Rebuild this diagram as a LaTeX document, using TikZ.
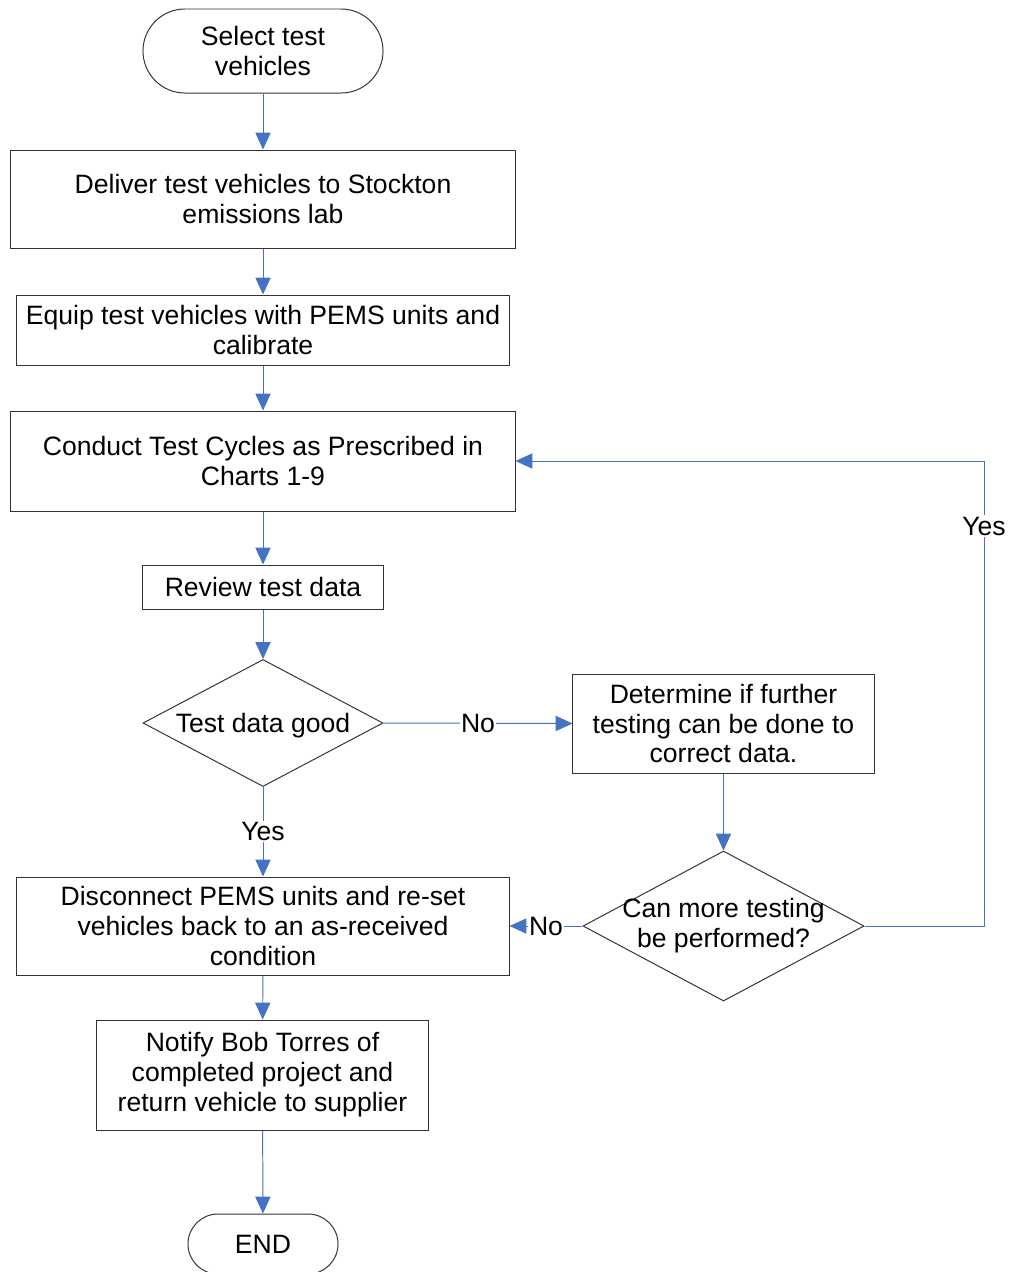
\documentclass[tikz,border=0pt]{standalone}
\usepackage{fontspec}
\setmainfont{Liberation Sans}
\usetikzlibrary{arrows.meta,shapes.geometric}
\definecolor{flowblue}{RGB}{68,114,196}

\begin{document}
\begin{tikzpicture}[x=0.025cm, y=-0.025cm,
  every node/.style={font=\fontsize{18.9}{21.3}\selectfont, align=center},
  box/.style={draw=black!80, line width=0.7pt, inner sep=0pt},
  term/.style={box, rounded corners=1.05cm},
  decide/.style={box, diamond, inner sep=0pt},
  flow/.style={draw=flowblue, line width=0.7pt, -{Triangle[length=0.42cm,width=0.38cm]}},
  lbl/.style={fill=white, inner sep=1pt}]
\useasboundingbox (0,0) rectangle (1024,1272);

% Main column
\node[term, minimum width=6cm, minimum height=2.1cm] (start) at (263,51) {Select test\\vehicles};
\node[box, minimum width=12.6cm, minimum height=2.45cm] (deliver) at (263,199) {Deliver test vehicles to Stockton\\emissions lab};
\node[box, minimum width=12.3cm, minimum height=1.75cm] (equip) at (263,330) {Equip test vehicles with PEMS units and\\calibrate};
\node[box, minimum width=12.6cm, minimum height=2.5cm] (conduct) at (263,461) {Conduct Test Cycles as Prescribed in\\Charts 1-9};
\node[box, minimum width=6cm, minimum height=1.1cm] (review) at (263,587) {Review test data};
\node[decide, minimum width=6cm, minimum height=3.175cm, label={[yshift=-2pt]center:Test data good}] (good) at (263,723) {};
\node[box, minimum width=12.3cm, minimum height=2.45cm] (disconnect) at (263,926) {Disconnect PEMS units and re-set\\vehicles back to an as-received\\condition};
\node[box, minimum width=8.275cm, minimum height=2.75cm] (notify) at (262.5,1075) {Notify Bob Torres of\\completed project and\\return vehicle to supplier};
\node[term, rounded corners=0.75cm, minimum width=3.75cm, minimum height=1.5cm] (end) at (263,1244) {END};

% Side branch
\node[box, minimum width=7.525cm, minimum height=2.475cm] (further) at (723.5,723.5) {Determine if further\\testing can be done to\\correct data.};
\node[decide, minimum width=7.025cm, minimum height=3.75cm, label=center:{Can more testing\\be performed?}] (more) at (723.5,926) {};
\coordinate (loop) at (984,926);

% Connectors
\draw[flow] (start) -- (deliver);
\draw[flow] (deliver) -- (equip);
\draw[flow] (equip) -- (conduct);
\draw[flow] (conduct) -- (review);
\draw[flow] (review) -- (good);
\draw[flow] (good.east) -- node[lbl] {No} (further.west);
\draw[flow] (good.south) -- node[lbl] {Yes} (disconnect.north);
\draw[flow] (further) -- (more);
\draw[flow] (more.west) -- node[lbl] {No} (disconnect.east);
\draw[flow] (more.east) -- (loop) |- node[lbl, pos=0.43] {Yes} (conduct.east);
\draw[flow] (disconnect) -- (notify);
\draw[flow] (notify) -- (end);
\end{tikzpicture}
\end{document}
